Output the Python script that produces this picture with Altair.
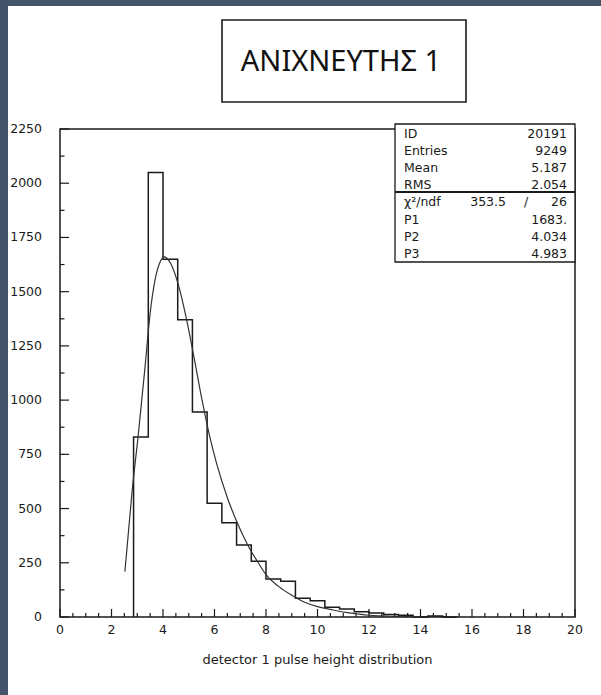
import altair as alt
import pandas as pd

# ---------------- data ----------------
N_BINS = 35            # histogram binning on [0, 20]
X_MIN, X_MAX = 0.0, 20.0
FIRST_BIN = 5          # first non-empty bin
hist_counts = [830, 2050, 1650, 1370, 945, 525, 435, 332, 257, 175, 165,
               86, 75, 45, 37, 24, 18, 12, 8, 0, 5, 0]

fit_x = [2.52, 2.8, 3.04, 3.3, 3.5, 3.7, 3.9, 4.03, 4.3, 4.6, 4.9, 5.2, 5.5,
         5.8, 6.1, 6.5, 6.9, 7.3, 7.7, 8.0, 8.5, 9.0, 9.5, 10.0, 10.5, 11.0,
         11.5, 12.0, 12.5, 13.0, 13.5, 14.0]
fit_y = [209, 580, 840, 1150, 1400, 1560, 1640, 1662, 1630, 1530, 1380, 1200,
         1010, 840, 700, 550, 430, 330, 250, 195, 140, 100, 68, 48, 35, 23,
         15, 8, 5, 3, 1.5, 1]

x_major_ticks = [0, 2, 4, 6, 8, 10, 12, 14, 16, 18, 20]
x_minor_ticks = [0.5, 1, 1.5, 2.5, 3, 3.5, 4.5, 5, 5.5, 6.5, 7, 7.5, 8.5, 9,
                 9.5, 10.5, 11, 11.5, 12.5, 13, 13.5, 14.5, 15, 15.5, 16.5,
                 17, 17.5, 18.5, 19, 19.5]
y_major_ticks = [0, 250, 500, 750, 1000, 1250, 1500, 1750, 2000, 2250]
y_minor_ticks = [125, 375, 625, 875, 1125, 1375, 1625, 1875, 2125]

panel_title = "ΑΝΙΧΝΕΥΤΗΣ 1"
x_title = "detector 1 pulse height distribution"
stat_names = ["ID", "Entries", "Mean", "RMS", "χ²/ndf", "P1", "P2", "P3"]
stat_values = ["20191", "9249", "5.187", "2.054", "26", "1683.", "4.034", "4.983"]
chi2_value = "353.5"
chi2_sep = "/"

# ---------------- tables ----------------
bw = (X_MAX - X_MIN) / N_BINS
edges = [X_MIN + (FIRST_BIN + i) * bw for i in range(len(hist_counts))]
hx = [edges[0]] + edges + [edges[-1] + bw]
hy = [0] + hist_counts + [0]
hist_df = pd.DataFrame({"x": hx, "y": hy, "i": list(range(len(hx)))})
fit_df = pd.DataFrame({"x": fit_x, "y": fit_y})
stats_df = pd.DataFrame({"name": stat_names, "value": stat_values,
                         "row": list(range(len(stat_names)))})
one = pd.DataFrame({"t": [panel_title]})
xt_df = pd.DataFrame({"t": [x_title]})
chi_df = pd.DataFrame({"a": [chi2_value], "b": [chi2_sep]})
xmaj_df = pd.DataFrame({"v": x_major_ticks})
ymaj_df = pd.DataFrame({"v": y_major_ticks})

INK = "#1a1a1a"
FONT = "DejaVu Sans"
FS = 12.5
W, H = 515, 488

xs = alt.Scale(domain=[X_MIN, X_MAX], nice=False, zero=False)
ys = alt.Scale(domain=[0, 2250], nice=False)

hist = alt.Chart(hist_df).mark_line(interpolate="step-after", color=INK,
                                    strokeWidth=1.5).encode(
    x=alt.X("x:Q", scale=xs, axis=None),
    y=alt.Y("y:Q", scale=ys, axis=None),
    order="i:Q",
)

fit = alt.Chart(fit_df).mark_line(interpolate="monotone", color="#333333",
                                  strokeWidth=1.2).encode(
    x=alt.X("x:Q", scale=xs, axis=None),
    y=alt.Y("y:Q", scale=ys, axis=None),
)

# ticks (drawn inward, as in the original)
xmaj = alt.Chart(xmaj_df).mark_rule(color=INK, strokeWidth=1.2).encode(
    x=alt.X("v:Q", scale=xs, axis=None), y=alt.value(H), y2=alt.value(H - 8))
xmin_ = alt.Chart(pd.DataFrame({"v": x_minor_ticks})).mark_rule(color=INK, strokeWidth=1.2).encode(
    x=alt.X("v:Q", scale=xs, axis=None), y=alt.value(H), y2=alt.value(H - 4))
ymaj = alt.Chart(ymaj_df).mark_rule(color=INK, strokeWidth=1.2).encode(
    y=alt.Y("v:Q", scale=ys, axis=None), x=alt.value(0), x2=alt.value(9))
ymin_ = alt.Chart(pd.DataFrame({"v": y_minor_ticks})).mark_rule(color=INK, strokeWidth=1.2).encode(
    y=alt.Y("v:Q", scale=ys, axis=None), x=alt.value(0), x2=alt.value(4.5))

# tick labels and axis title
xlab = alt.Chart(xmaj_df).mark_text(align="center", baseline="middle", font=FONT,
                                    fontSize=FS, color=INK).encode(
    x=alt.X("v:Q", scale=xs, axis=None), y=alt.value(H + 12.5),
    text=alt.Text("v:Q", format="d"))
ylab = alt.Chart(ymaj_df).mark_text(align="right", baseline="middle", font=FONT,
                                    fontSize=FS, color=INK).encode(
    y=alt.Y("v:Q", scale=ys, axis=None), x=alt.value(-18),
    text=alt.Text("v:Q", format="d"))
xtitle = alt.Chart(xt_df).mark_text(align="center", baseline="middle", font=FONT,
                                    fontSize=13, color=INK).encode(
    x=alt.value(W / 2), y=alt.value(H + 43), text="t:N")

# statistics box
sbox = alt.Chart(one).mark_rect(fill="white", stroke=INK, strokeWidth=1.3).encode(
    x=alt.value(335), x2=alt.value(515), y=alt.value(-5), y2=alt.value(133))
sdiv = alt.Chart(one).mark_rule(color=INK, strokeWidth=2.2).encode(
    x=alt.value(335), x2=alt.value(515), y=alt.value(63))
stext_l = alt.Chart(stats_df).transform_calculate(py="5 + datum.row * 17.1").mark_text(
    align="left", baseline="middle", font=FONT, fontSize=FS, color=INK).encode(
    x=alt.value(344), y=alt.Y("py:Q", scale=None, axis=None), text="name:N")
stext_r = alt.Chart(stats_df).transform_calculate(py="5 + datum.row * 17.1").mark_text(
    align="right", baseline="middle", font=FONT, fontSize=FS, color=INK).encode(
    x=alt.value(507), y=alt.Y("py:Q", scale=None, axis=None), text="value:N")
chi_a = alt.Chart(chi_df).mark_text(align="right", baseline="middle", font=FONT,
                                    fontSize=FS, color=INK).encode(
    x=alt.value(446), y=alt.value(5 + 4 * 17.1), text="a:N")
chi_b = alt.Chart(chi_df).mark_text(align="center", baseline="middle", font=FONT,
                                    fontSize=FS, color=INK).encode(
    x=alt.value(466), y=alt.value(5 + 4 * 17.1), text="b:N")

# panel title box
tbox = alt.Chart(one).mark_rect(fill="white", stroke=INK, strokeWidth=1.6).encode(
    x=alt.value(162), x2=alt.value(406), y=alt.value(-109), y2=alt.value(-27))
ttext = alt.Chart(one).mark_text(align="center", baseline="alphabetic",
                                 font="Liberation Sans Narrow, Noto Sans",
                                 fontSize=29, color="#111111").encode(
    x=alt.value(281), y=alt.value(-58), text="t:N")

chart = alt.layer(
    hist, fit, xmaj, xmin_, ymaj, ymin_, xlab, ylab, xtitle,
    sbox, sdiv, stext_l, stext_r, chi_a, chi_b, tbox, ttext
).properties(
    width=W, height=H,
    autosize=alt.AutoSizeParams(type="none"),
    padding={"left": 52, "top": 123, "right": 26, "bottom": 78},
    background="white",
).configure_view(
    stroke=INK, strokeWidth=1.5
)

chart.save("out.html", embed_options={
    "renderer": "svg", "actions": False,
    "defaultStyle": "html,body{overflow:hidden;} body{margin:0;padding:6px 0 0 8px;background:#44546a;}"
})
